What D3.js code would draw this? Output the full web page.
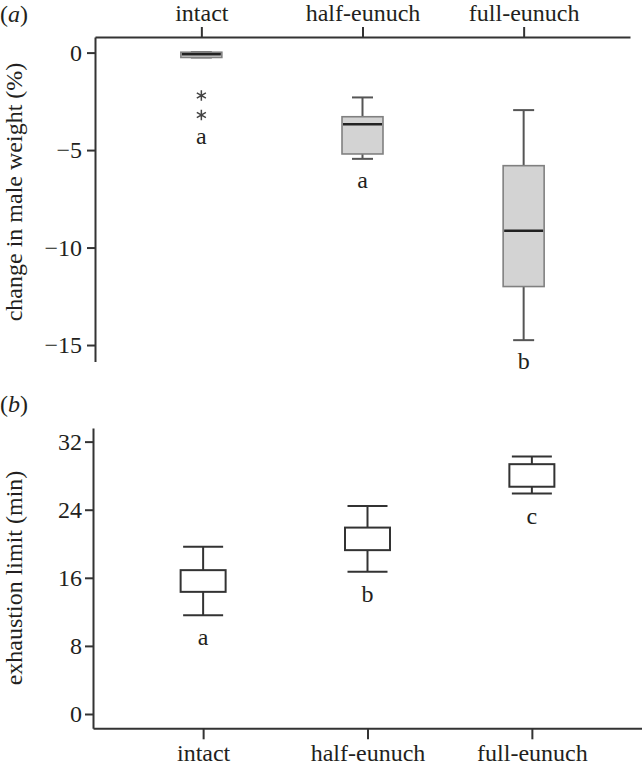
<!DOCTYPE html>
<html>
<head>
<meta charset="utf-8">
<script src="https://cdn.jsdelivr.net/npm/d3@7"></script>
<style>
    body { margin: 0; background: #fff; }
    svg text { font-family: "Liberation Serif", "DejaVu Serif", serif; fill: #231f20; }
</style>
</head>
<body>
<div id="chart"></div>
<script>
const groups = ["intact", "half-eunuch", "full-eunuch"];

// (a) change in male weight (%)
const weightLow = [-0.25, -5.45, -14.75];
const weightQ1 = [-0.25, -5.2, -12.0];
const weightMedian = [-0.08, -3.67, -9.14];
const weightQ3 = [0.02, -3.29, -5.8];
const weightHigh = [0.02, -2.3, -2.95];
const weightOutlierGroup = ["intact", "intact"];
const weightOutlierValue = [-2.2, -3.2];
const weightLetters = ["a", "a", "b"];
const weightTicks = [0, -5, -10, -15];

// (b) exhaustion limit (min)
const exLow = [11.6, 16.7, 25.9];
const exQ1 = [14.35, 19.25, 26.7];
const exQ3 = [16.9, 21.9, 29.35];
const exHigh = [19.65, 24.45, 30.25];
const exLetters = ["a", "b", "c"];
const exTicks = [0, 8, 16, 24, 32];

const width = 642, height = 769;
const svg = d3.select("#chart").append("svg")
    .attr("width", width)
    .attr("height", height);

const axisColor = "#333";

function styleAxis(g) {
    g.selectAll("path.domain").attr("stroke", axisColor).attr("stroke-width", 2);
    g.selectAll(".tick line").attr("stroke", axisColor).attr("stroke-width", 2);
    g.selectAll(".tick text")
        .attr("font-size", 24)
        .attr("fill", "#231f20");
}

// six-armed asterisk used for outliers
const asterisk = {
    draw: function (context, size) {
        let r = Math.sqrt(size) / 2;
        for (let k = 0; k < 3; k++) {
            let a = Math.PI / 2 + k * Math.PI / 3;
            context.moveTo(r * Math.cos(a), r * Math.sin(a));
            context.lineTo(-r * Math.cos(a), -r * Math.sin(a));
        }
    }
};

// ---------- panel (a) ----------
let xA = d3.scalePoint().domain(groups).range([95, 630]).padding(0.66);
let yA = d3.scaleLinear().domain([0.8, -15.85]).range([37, 361.6]);

let gA = svg.append("g");
gA.append("g")
    .attr("transform", "translate(95,0)")
    .call(d3.axisLeft(yA).tickValues(weightTicks).tickSize(8).tickSizeOuter(0).tickPadding(5))
    .call(styleAxis);
gA.append("g")
    .attr("transform", "translate(0,37)")
    .call(d3.axisTop(xA).tickSize(10).tickSizeOuter(0).tickPadding(6))
    .call(styleAxis);

let boxWA = 41, capWA = 21;
groups.forEach(function (grp, i) {
    let cx = xA(grp);
    let g = gA.append("g");
    // whiskers
    g.append("line")
        .attr("x1", cx).attr("x2", cx)
        .attr("y1", yA(weightHigh[i])).attr("y2", yA(weightQ3[i]))
        .attr("stroke", "#555").attr("stroke-width", 2);
    g.append("line")
        .attr("x1", cx).attr("x2", cx)
        .attr("y1", yA(weightQ1[i])).attr("y2", yA(weightLow[i]))
        .attr("stroke", "#555").attr("stroke-width", 2);
    [weightHigh[i], weightLow[i]].forEach(function (v) {
        g.append("line")
            .attr("x1", cx - capWA / 2).attr("x2", cx + capWA / 2)
            .attr("y1", yA(v)).attr("y2", yA(v))
            .attr("stroke", "#555").attr("stroke-width", 2);
    });
    g.append("rect")
        .attr("x", cx - boxWA / 2)
        .attr("y", yA(weightQ3[i]))
        .attr("width", boxWA)
        .attr("height", yA(weightQ1[i]) - yA(weightQ3[i]))
        .attr("fill", "#d3d3d3")
        .attr("stroke", "#808080")
        .attr("stroke-width", 1.6);
    g.append("line")
        .attr("x1", cx - boxWA / 2 + 1).attr("x2", cx + boxWA / 2 - 1)
        .attr("y1", yA(weightMedian[i])).attr("y2", yA(weightMedian[i]))
        .attr("stroke", "#222").attr("stroke-width", 2.5);

    let lowest = d3.min([weightLow[i]].concat(weightOutlierValue.filter(function (v, j) {
        return weightOutlierGroup[j] === grp;
    })));
    g.append("text")
        .attr("x", cx)
        .attr("y", yA(lowest) + 29)
        .attr("text-anchor", "middle")
        .attr("font-size", 24)
        .text(weightLetters[i]);
});

// outliers drawn as asterisks
gA.selectAll(".outlier")
    .data(weightOutlierValue)
    .enter().append("path")
    .attr("class", "outlier")
    .attr("transform", function (d, i) {
        return "translate(" + xA(weightOutlierGroup[i]) + "," + yA(d) + ")";
    })
    .attr("d", d3.symbol().type(asterisk).size(110))
    .attr("fill", "none")
    .attr("stroke", "#444")
    .attr("stroke-width", 1.5);

svg.append("text")
    .attr("transform", "translate(22,192) rotate(-90)")
    .attr("text-anchor", "middle")
    .attr("font-size", 24)
    .text("change in male weight (%)");
svg.append("text")
    .attr("x", 0).attr("y", 22)
    .attr("font-size", 24)
    .html('(<tspan font-style="italic">a</tspan>)');

// ---------- panel (b) ----------
let xB = d3.scalePoint().domain(groups).range([93, 642]).padding(0.67);
let yB = d3.scaleLinear().domain([33.6, -1.68]).range([428, 728.3]);

let gB = svg.append("g");
gB.append("g")
    .attr("transform", "translate(93,0)")
    .call(d3.axisLeft(yB).tickValues(exTicks).tickSize(8).tickSizeOuter(0).tickPadding(3))
    .call(styleAxis);
gB.append("g")
    .attr("transform", "translate(0,728.3)")
    .call(d3.axisBottom(xB).tickSize(11).tickSizeOuter(0).tickPadding(5))
    .call(styleAxis);

let boxWB = 45, capWB = 40;
groups.forEach(function (grp, i) {
    let cx = xB(grp);
    let g = gB.append("g");
    g.append("line")
        .attr("x1", cx).attr("x2", cx)
        .attr("y1", yB(exHigh[i])).attr("y2", yB(exLow[i]))
        .attr("stroke", "#333").attr("stroke-width", 2);
    [exHigh[i], exLow[i]].forEach(function (v) {
        g.append("line")
            .attr("x1", cx - capWB / 2).attr("x2", cx + capWB / 2)
            .attr("y1", yB(v)).attr("y2", yB(v))
            .attr("stroke", "#333").attr("stroke-width", 2);
    });
    g.append("rect")
        .attr("x", cx - boxWB / 2)
        .attr("y", yB(exQ3[i]))
        .attr("width", boxWB)
        .attr("height", yB(exQ1[i]) - yB(exQ3[i]))
        .attr("fill", "#fff")
        .attr("stroke", "#333")
        .attr("stroke-width", 2);
    g.append("text")
        .attr("x", cx)
        .attr("y", yB(exLow[i]) + 30)
        .attr("text-anchor", "middle")
        .attr("font-size", 24)
        .text(exLetters[i]);
});

svg.append("text")
    .attr("transform", "translate(22,578) rotate(-90)")
    .attr("text-anchor", "middle")
    .attr("font-size", 24)
    .text("exhaustion limit (min)");
svg.append("text")
    .attr("x", 0).attr("y", 412)
    .attr("font-size", 24)
    .html('(<tspan font-style="italic">b</tspan>)');
</script>
</body>
</html>
